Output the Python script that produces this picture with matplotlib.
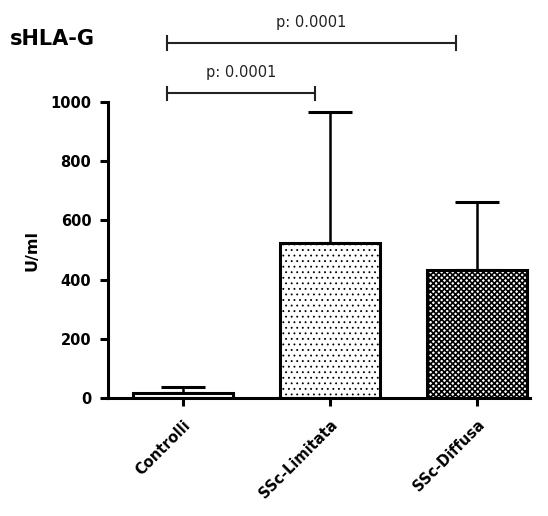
import matplotlib
matplotlib.use("Agg")
import matplotlib.pyplot as plt

categories = ["Controlli", "SSc-Limitata", "SSc-Diffusa"]
means = [17, 524, 432]
errors = [20, 442, 230]
hatches = ["", "...", "xxxxxx"]
hatch_widths = [1.0, 0.6, 1.2]
y_ticks = [0, 200, 400, 600, 800, 1000]
comparisons = [(-0.11, 0.9, 1030, "p: 0.0001"), (-0.11, 1.86, 1200, "p: 0.0001")]

plt.rcParams['font.family'] = ['DejaVu Sans']

fig = plt.figure(figsize=(5.48, 5.16), dpi=100)
ax = fig.add_axes([0.197, 0.2287, 0.77, 0.5733])

x = list(range(len(categories)))
for xi, m, h, hw in zip(x, means, hatches, hatch_widths):
    with plt.rc_context({'hatch.linewidth': hw}):
        ax.bar([xi], [m], width=0.68, color="white", edgecolor="black", linewidth=2.2,
               hatch=h, zorder=2)
ax.errorbar(x, means, yerr=[[0]*3, errors], fmt="none", ecolor="black",
            elinewidth=1.8, capsize=16, capthick=2.2, zorder=1)

ax.set_xlim(-0.51, 2.36)
ax.set_ylim(0, 1000)
ax.set_yticks(y_ticks)
ax.set_yticklabels([str(v) for v in y_ticks], fontweight="bold", fontsize=10.5)
ax.set_xticks(x)
ax.set_xticklabels(categories, rotation=45, ha="right", rotation_mode="anchor",
                   fontweight="bold", fontsize=10.5)
ax.tick_params(axis="y", direction="out", length=6, width=2.2, pad=6)
ax.tick_params(axis="x", direction="out", length=6, width=2.2, pad=8)
for s in ["top", "right"]:
    ax.spines[s].set_visible(False)
for s in ["left", "bottom"]:
    ax.spines[s].set_linewidth(2.2)

ax.set_ylabel("U/ml", fontweight="bold", fontsize=11.5, labelpad=8)

for x0, x1, yb, txt in comparisons:
    ax.plot([x0, x1], [yb, yb], color="#222222", lw=1.5, clip_on=False)
    for xx in (x0, x1):
        ax.plot([xx, xx], [yb - 22, yb + 22], color="#222222", lw=1.5, clip_on=False)
    ax.text((x0 + x1) / 2, yb + 45, txt, ha="center", va="bottom", fontsize=10.5,
            color="#222222")

fig.text(0.018, 0.925, "sHLA-G", fontweight="bold", fontsize=15, ha="left", va="center")

fig.savefig("out.png", dpi=100)
